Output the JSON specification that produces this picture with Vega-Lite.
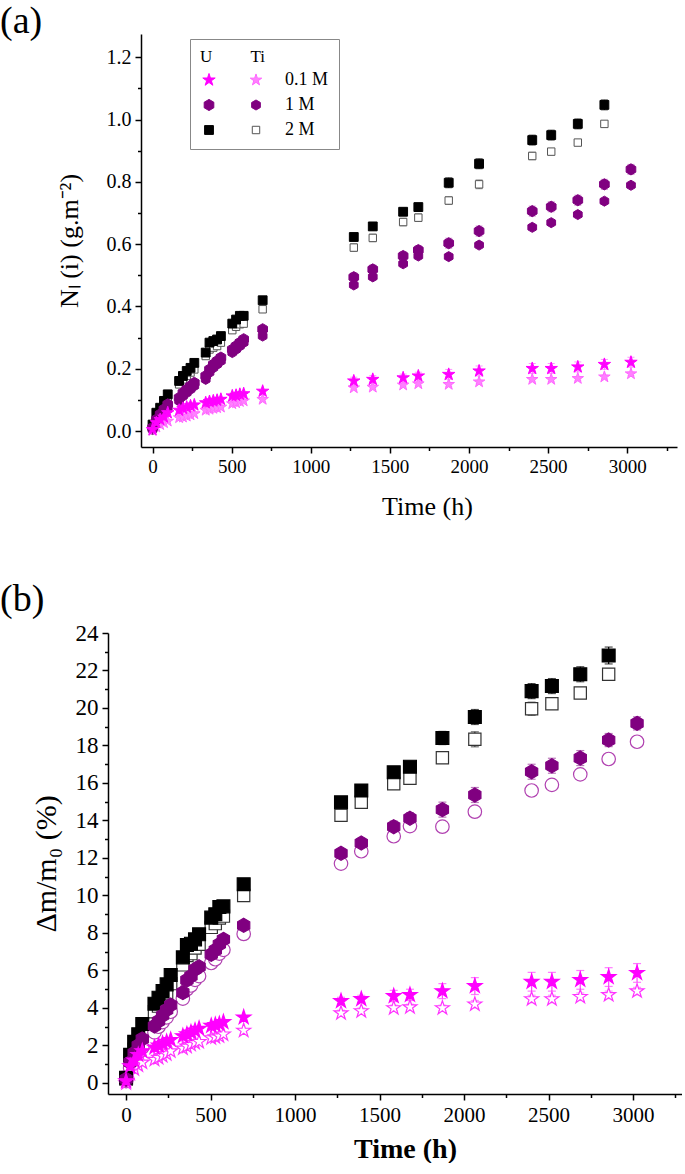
{
"$schema": "https://vega.github.io/schema/vega-lite/v6.json",
"background": "white",
"padding": {"left": 0, "top": 3, "right": 0, "bottom": 0},
"spacing": 62,
"datasets": {
"a": [
{"s":"Ti 2 M","t":0,"v":0.011},{"s":"Ti 2 M","t":24,"v":0.048},{"s":"Ti 2 M","t":48,"v":0.07},{"s":"Ti 2 M","t":72,"v":0.086},{"s":"Ti 2 M","t":96,"v":0.102},{"s":"Ti 2 M","t":168,"v":0.15},{"s":"Ti 2 M","t":192,"v":0.166},{"s":"Ti 2 M","t":216,"v":0.177},{"s":"Ti 2 M","t":240,"v":0.188},{"s":"Ti 2 M","t":264,"v":0.198},{"s":"Ti 2 M","t":336,"v":0.241},{"s":"Ti 2 M","t":360,"v":0.262},{"s":"Ti 2 M","t":384,"v":0.268},{"s":"Ti 2 M","t":408,"v":0.273},{"s":"Ti 2 M","t":432,"v":0.284},{"s":"Ti 2 M","t":504,"v":0.324},{"s":"Ti 2 M","t":528,"v":0.335},{"s":"Ti 2 M","t":552,"v":0.343},{"s":"Ti 2 M","t":576,"v":0.345},{"s":"Ti 2 M","t":696,"v":0.391},
{"s":"Ti 2 M","t":1272,"v":0.589,"e":0.012},{"s":"Ti 2 M","t":1392,"v":0.62,"e":0.012},{"s":"Ti 2 M","t":1584,"v":0.671,"e":0.012},{"s":"Ti 2 M","t":1680,"v":0.685,"e":0.012},{"s":"Ti 2 M","t":1872,"v":0.74,"e":0.012},{"s":"Ti 2 M","t":2064,"v":0.792,"e":0.014},{"s":"Ti 2 M","t":2400,"v":0.883,"e":0.012},{"s":"Ti 2 M","t":2520,"v":0.897,"e":0.01},{"s":"Ti 2 M","t":2688,"v":0.926,"e":0.008},{"s":"Ti 2 M","t":2856,"v":0.986,"e":0.008},
{"s":"Ti 1 M","t":0,"v":0.005},{"s":"Ti 1 M","t":24,"v":0.027},{"s":"Ti 1 M","t":48,"v":0.045},{"s":"Ti 1 M","t":72,"v":0.059},{"s":"Ti 1 M","t":96,"v":0.075},{"s":"Ti 1 M","t":168,"v":0.097},{"s":"Ti 1 M","t":192,"v":0.112},{"s":"Ti 1 M","t":216,"v":0.123},{"s":"Ti 1 M","t":240,"v":0.134},{"s":"Ti 1 M","t":264,"v":0.145},{"s":"Ti 1 M","t":336,"v":0.166},{"s":"Ti 1 M","t":360,"v":0.188},{"s":"Ti 1 M","t":384,"v":0.203},{"s":"Ti 1 M","t":408,"v":0.214},{"s":"Ti 1 M","t":432,"v":0.225},{"s":"Ti 1 M","t":504,"v":0.252},{"s":"Ti 1 M","t":528,"v":0.262},{"s":"Ti 1 M","t":552,"v":0.273},{"s":"Ti 1 M","t":576,"v":0.284},{"s":"Ti 1 M","t":696,"v":0.305},
{"s":"Ti 1 M","t":1272,"v":0.469,"e":0.008},{"s":"Ti 1 M","t":1392,"v":0.495,"e":0.008},{"s":"Ti 1 M","t":1584,"v":0.537,"e":0.008},{"s":"Ti 1 M","t":1680,"v":0.562,"e":0.008},{"s":"Ti 1 M","t":1872,"v":0.56,"e":0.006},{"s":"Ti 1 M","t":2064,"v":0.597,"e":0.006},{"s":"Ti 1 M","t":2400,"v":0.654,"e":0.006},{"s":"Ti 1 M","t":2520,"v":0.669,"e":0.006},{"s":"Ti 1 M","t":2688,"v":0.695,"e":0.006},{"s":"Ti 1 M","t":2856,"v":0.738,"e":0.006},{"s":"Ti 1 M","t":3024,"v":0.789,"e":0.006},
{"s":"Ti 0.1 M","t":0,"v":0.002},{"s":"Ti 0.1 M","t":24,"v":0.013},{"s":"Ti 0.1 M","t":48,"v":0.021},{"s":"Ti 0.1 M","t":72,"v":0.027},{"s":"Ti 0.1 M","t":96,"v":0.032},{"s":"Ti 0.1 M","t":168,"v":0.043},{"s":"Ti 0.1 M","t":192,"v":0.045},{"s":"Ti 0.1 M","t":216,"v":0.048},{"s":"Ti 0.1 M","t":240,"v":0.052},{"s":"Ti 0.1 M","t":264,"v":0.056},{"s":"Ti 0.1 M","t":336,"v":0.067},{"s":"Ti 0.1 M","t":360,"v":0.07},{"s":"Ti 0.1 M","t":384,"v":0.073},{"s":"Ti 0.1 M","t":408,"v":0.075},{"s":"Ti 0.1 M","t":432,"v":0.077},{"s":"Ti 0.1 M","t":504,"v":0.088},{"s":"Ti 0.1 M","t":528,"v":0.091},{"s":"Ti 0.1 M","t":552,"v":0.095},{"s":"Ti 0.1 M","t":576,"v":0.097},{"s":"Ti 0.1 M","t":696,"v":0.102},
{"s":"Ti 0.1 M","t":1272,"v":0.139,"e":0.006},{"s":"Ti 0.1 M","t":1392,"v":0.141,"e":0.006},{"s":"Ti 0.1 M","t":1584,"v":0.148,"e":0.006},{"s":"Ti 0.1 M","t":1680,"v":0.152,"e":0.006},{"s":"Ti 0.1 M","t":1872,"v":0.15,"e":0.006},{"s":"Ti 0.1 M","t":2064,"v":0.158,"e":0.006},{"s":"Ti 0.1 M","t":2400,"v":0.166,"e":0.006},{"s":"Ti 0.1 M","t":2520,"v":0.166,"e":0.006},{"s":"Ti 0.1 M","t":2688,"v":0.169,"e":0.006},{"s":"Ti 0.1 M","t":2856,"v":0.174,"e":0.006},{"s":"Ti 0.1 M","t":3024,"v":0.184,"e":0.006},
{"s":"U 2 M","t":0,"v":0.021},{"s":"U 2 M","t":24,"v":0.059},{"s":"U 2 M","t":48,"v":0.075},{"s":"U 2 M","t":72,"v":0.097},{"s":"U 2 M","t":96,"v":0.118},{"s":"U 2 M","t":168,"v":0.161},{"s":"U 2 M","t":192,"v":0.177},{"s":"U 2 M","t":216,"v":0.193},{"s":"U 2 M","t":240,"v":0.203},{"s":"U 2 M","t":264,"v":0.219},{"s":"U 2 M","t":336,"v":0.252},{"s":"U 2 M","t":360,"v":0.284},{"s":"U 2 M","t":384,"v":0.289},{"s":"U 2 M","t":408,"v":0.294},{"s":"U 2 M","t":432,"v":0.305},{"s":"U 2 M","t":504,"v":0.345},{"s":"U 2 M","t":528,"v":0.358},{"s":"U 2 M","t":552,"v":0.37},{"s":"U 2 M","t":576,"v":0.37},{"s":"U 2 M","t":696,"v":0.42},
{"s":"U 2 M","t":1272,"v":0.623,"e":0.012},{"s":"U 2 M","t":1392,"v":0.657,"e":0.012},{"s":"U 2 M","t":1584,"v":0.704,"e":0.012},{"s":"U 2 M","t":1680,"v":0.719,"e":0.012},{"s":"U 2 M","t":1872,"v":0.797,"e":0.016},{"s":"U 2 M","t":2064,"v":0.858,"e":0.016},{"s":"U 2 M","t":2400,"v":0.934,"e":0.016},{"s":"U 2 M","t":2520,"v":0.95,"e":0.016},{"s":"U 2 M","t":2688,"v":0.986,"e":0.016},{"s":"U 2 M","t":2856,"v":1.047,"e":0.016},
{"s":"U 1 M","t":0,"v":0.011},{"s":"U 1 M","t":24,"v":0.037},{"s":"U 1 M","t":48,"v":0.054},{"s":"U 1 M","t":72,"v":0.07},{"s":"U 1 M","t":96,"v":0.086},{"s":"U 1 M","t":168,"v":0.107},{"s":"U 1 M","t":192,"v":0.123},{"s":"U 1 M","t":216,"v":0.134},{"s":"U 1 M","t":240,"v":0.145},{"s":"U 1 M","t":264,"v":0.155},{"s":"U 1 M","t":336,"v":0.177},{"s":"U 1 M","t":360,"v":0.198},{"s":"U 1 M","t":384,"v":0.214},{"s":"U 1 M","t":408,"v":0.225},{"s":"U 1 M","t":432,"v":0.236},{"s":"U 1 M","t":504,"v":0.262},{"s":"U 1 M","t":528,"v":0.273},{"s":"U 1 M","t":552,"v":0.284},{"s":"U 1 M","t":576,"v":0.295},{"s":"U 1 M","t":696,"v":0.327},
{"s":"U 1 M","t":1272,"v":0.494,"e":0.014},{"s":"U 1 M","t":1392,"v":0.519,"e":0.014},{"s":"U 1 M","t":1584,"v":0.562,"e":0.014},{"s":"U 1 M","t":1680,"v":0.581,"e":0.014},{"s":"U 1 M","t":1872,"v":0.603,"e":0.016},{"s":"U 1 M","t":2064,"v":0.642,"e":0.016},{"s":"U 1 M","t":2400,"v":0.706,"e":0.016},{"s":"U 1 M","t":2520,"v":0.72,"e":0.016},{"s":"U 1 M","t":2688,"v":0.741,"e":0.016},{"s":"U 1 M","t":2856,"v":0.792,"e":0.016},{"s":"U 1 M","t":3024,"v":0.84,"e":0.016},
{"s":"U 0.1 M","t":0,"v":0.005},{"s":"U 0.1 M","t":24,"v":0.027},{"s":"U 0.1 M","t":48,"v":0.037},{"s":"U 0.1 M","t":72,"v":0.045},{"s":"U 0.1 M","t":96,"v":0.059},{"s":"U 0.1 M","t":168,"v":0.067},{"s":"U 0.1 M","t":192,"v":0.073},{"s":"U 0.1 M","t":216,"v":0.077},{"s":"U 0.1 M","t":240,"v":0.081},{"s":"U 0.1 M","t":264,"v":0.084},{"s":"U 0.1 M","t":336,"v":0.091},{"s":"U 0.1 M","t":360,"v":0.095},{"s":"U 0.1 M","t":384,"v":0.097},{"s":"U 0.1 M","t":408,"v":0.099},{"s":"U 0.1 M","t":432,"v":0.102},{"s":"U 0.1 M","t":504,"v":0.113},{"s":"U 0.1 M","t":528,"v":0.115},{"s":"U 0.1 M","t":552,"v":0.118},{"s":"U 0.1 M","t":576,"v":0.12},{"s":"U 0.1 M","t":696,"v":0.128},
{"s":"U 0.1 M","t":1272,"v":0.161,"e":0.012},{"s":"U 0.1 M","t":1392,"v":0.166,"e":0.012},{"s":"U 0.1 M","t":1584,"v":0.171,"e":0.012},{"s":"U 0.1 M","t":1680,"v":0.177,"e":0.012},{"s":"U 0.1 M","t":1872,"v":0.182,"e":0.016},{"s":"U 0.1 M","t":2064,"v":0.193,"e":0.016},{"s":"U 0.1 M","t":2400,"v":0.201,"e":0.016},{"s":"U 0.1 M","t":2520,"v":0.201,"e":0.016},{"s":"U 0.1 M","t":2688,"v":0.206,"e":0.016},{"s":"U 0.1 M","t":2856,"v":0.214,"e":0.016},{"s":"U 0.1 M","t":3024,"v":0.221,"e":0.016}
],
"b": [
{"s":"Ti 2 M","t":0,"v":0.2},{"s":"Ti 2 M","t":24,"v":1.2},{"s":"Ti 2 M","t":48,"v":1.8},{"s":"Ti 2 M","t":72,"v":2.2},{"s":"Ti 2 M","t":96,"v":2.6},{"s":"Ti 2 M","t":168,"v":3.8},{"s":"Ti 2 M","t":192,"v":4.1},{"s":"Ti 2 M","t":216,"v":4.5},{"s":"Ti 2 M","t":240,"v":4.8},{"s":"Ti 2 M","t":264,"v":5.3},{"s":"Ti 2 M","t":336,"v":6.3},{"s":"Ti 2 M","t":360,"v":6.8},{"s":"Ti 2 M","t":384,"v":6.9},{"s":"Ti 2 M","t":408,"v":7.2},{"s":"Ti 2 M","t":432,"v":7.4},{"s":"Ti 2 M","t":504,"v":8.3},{"s":"Ti 2 M","t":528,"v":8.5},{"s":"Ti 2 M","t":552,"v":8.8},{"s":"Ti 2 M","t":576,"v":8.9},{"s":"Ti 2 M","t":696,"v":10.0},
{"s":"Ti 2 M","t":1272,"v":14.28,"e":0.1},{"s":"Ti 2 M","t":1392,"v":14.97,"e":0.2},{"s":"Ti 2 M","t":1584,"v":15.96,"e":0.2},{"s":"Ti 2 M","t":1680,"v":16.25,"e":0.2},{"s":"Ti 2 M","t":1872,"v":17.35,"e":0.25},{"s":"Ti 2 M","t":2064,"v":18.33,"e":0.4},{"s":"Ti 2 M","t":2400,"v":19.96,"e":0.35},{"s":"Ti 2 M","t":2520,"v":20.23,"e":0.25},{"s":"Ti 2 M","t":2688,"v":20.8,"e":0.2},{"s":"Ti 2 M","t":2856,"v":21.8,"e":0.3},
{"s":"Ti 1 M","t":0,"v":0.1},{"s":"Ti 1 M","t":24,"v":0.8},{"s":"Ti 1 M","t":48,"v":1.2},{"s":"Ti 1 M","t":72,"v":1.6},{"s":"Ti 1 M","t":96,"v":1.9},{"s":"Ti 1 M","t":168,"v":2.7},{"s":"Ti 1 M","t":192,"v":3.0},{"s":"Ti 1 M","t":216,"v":3.25},{"s":"Ti 1 M","t":240,"v":3.5},{"s":"Ti 1 M","t":264,"v":3.8},{"s":"Ti 1 M","t":336,"v":4.5},{"s":"Ti 1 M","t":360,"v":5.0},{"s":"Ti 1 M","t":384,"v":5.2},{"s":"Ti 1 M","t":408,"v":5.5},{"s":"Ti 1 M","t":432,"v":5.7},{"s":"Ti 1 M","t":504,"v":6.4},{"s":"Ti 1 M","t":528,"v":6.6},{"s":"Ti 1 M","t":552,"v":6.9},{"s":"Ti 1 M","t":576,"v":7.1},{"s":"Ti 1 M","t":696,"v":7.95},
{"s":"Ti 1 M","t":1272,"v":11.7,"e":0.2},{"s":"Ti 1 M","t":1392,"v":12.36,"e":0.2},{"s":"Ti 1 M","t":1584,"v":13.16,"e":0.2},{"s":"Ti 1 M","t":1680,"v":13.7,"e":0.2},{"s":"Ti 1 M","t":1872,"v":13.67,"e":0.15},{"s":"Ti 1 M","t":2064,"v":14.47,"e":0.1},{"s":"Ti 1 M","t":2400,"v":15.6,"e":0.25},{"s":"Ti 1 M","t":2520,"v":15.9,"e":0.25},{"s":"Ti 1 M","t":2688,"v":16.46,"e":0.15},{"s":"Ti 1 M","t":2856,"v":17.28,"e":0.25},{"s":"Ti 1 M","t":3024,"v":18.2,"e":0.25},
{"s":"Ti 0.1 M","t":0,"v":0.0},{"s":"Ti 0.1 M","t":24,"v":0.5},{"s":"Ti 0.1 M","t":48,"v":0.75},{"s":"Ti 0.1 M","t":72,"v":0.95},{"s":"Ti 0.1 M","t":96,"v":1.1},{"s":"Ti 0.1 M","t":168,"v":1.25},{"s":"Ti 0.1 M","t":192,"v":1.35},{"s":"Ti 0.1 M","t":216,"v":1.45},{"s":"Ti 0.1 M","t":240,"v":1.55},{"s":"Ti 0.1 M","t":264,"v":1.7},{"s":"Ti 0.1 M","t":336,"v":1.85},{"s":"Ti 0.1 M","t":360,"v":1.95},{"s":"Ti 0.1 M","t":384,"v":2.05},{"s":"Ti 0.1 M","t":408,"v":2.15},{"s":"Ti 0.1 M","t":432,"v":2.2},{"s":"Ti 0.1 M","t":504,"v":2.4},{"s":"Ti 0.1 M","t":528,"v":2.45},{"s":"Ti 0.1 M","t":552,"v":2.5},{"s":"Ti 0.1 M","t":576,"v":2.6},{"s":"Ti 0.1 M","t":696,"v":2.8},
{"s":"Ti 0.1 M","t":1272,"v":3.73,"e":0.15},{"s":"Ti 0.1 M","t":1392,"v":3.84,"e":0.15},{"s":"Ti 0.1 M","t":1584,"v":4.0,"e":0.15},{"s":"Ti 0.1 M","t":1680,"v":4.05,"e":0.15},{"s":"Ti 0.1 M","t":1872,"v":4.0,"e":0.15},{"s":"Ti 0.1 M","t":2064,"v":4.2,"e":0.2},{"s":"Ti 0.1 M","t":2400,"v":4.48,"e":0.2},{"s":"Ti 0.1 M","t":2520,"v":4.48,"e":0.2},{"s":"Ti 0.1 M","t":2688,"v":4.6,"e":0.2},{"s":"Ti 0.1 M","t":2856,"v":4.7,"e":0.2},{"s":"Ti 0.1 M","t":3024,"v":4.9,"e":0.2},
{"s":"U 2 M","t":0,"v":0.28},{"s":"U 2 M","t":24,"v":1.5},{"s":"U 2 M","t":48,"v":2.2},{"s":"U 2 M","t":72,"v":2.6},{"s":"U 2 M","t":96,"v":3.15},{"s":"U 2 M","t":168,"v":4.23},{"s":"U 2 M","t":192,"v":4.55},{"s":"U 2 M","t":216,"v":4.9},{"s":"U 2 M","t":240,"v":5.26},{"s":"U 2 M","t":264,"v":5.76},{"s":"U 2 M","t":336,"v":6.7},{"s":"U 2 M","t":360,"v":7.36},{"s":"U 2 M","t":384,"v":7.43},{"s":"U 2 M","t":408,"v":7.66},{"s":"U 2 M","t":432,"v":7.93},{"s":"U 2 M","t":504,"v":8.82},{"s":"U 2 M","t":528,"v":9.0},{"s":"U 2 M","t":552,"v":9.39},{"s":"U 2 M","t":576,"v":9.42},{"s":"U 2 M","t":696,"v":10.6},
{"s":"U 2 M","t":1272,"v":14.97,"e":0.1},{"s":"U 2 M","t":1392,"v":15.6,"e":0.1},{"s":"U 2 M","t":1584,"v":16.57,"e":0.15},{"s":"U 2 M","t":1680,"v":16.87,"e":0.15},{"s":"U 2 M","t":1872,"v":18.4,"e":0.35},{"s":"U 2 M","t":2064,"v":19.52,"e":0.4},{"s":"U 2 M","t":2400,"v":20.9,"e":0.4},{"s":"U 2 M","t":2520,"v":21.17,"e":0.4},{"s":"U 2 M","t":2688,"v":21.8,"e":0.4},{"s":"U 2 M","t":2856,"v":22.8,"e":0.45},
{"s":"U 1 M","t":0,"v":0.2},{"s":"U 1 M","t":24,"v":1.1},{"s":"U 1 M","t":48,"v":1.6},{"s":"U 1 M","t":72,"v":2.0},{"s":"U 1 M","t":96,"v":2.35},{"s":"U 1 M","t":168,"v":3.04},{"s":"U 1 M","t":192,"v":3.3},{"s":"U 1 M","t":216,"v":3.6},{"s":"U 1 M","t":240,"v":3.9},{"s":"U 1 M","t":264,"v":4.16},{"s":"U 1 M","t":336,"v":4.82},{"s":"U 1 M","t":360,"v":5.49},{"s":"U 1 M","t":384,"v":5.7},{"s":"U 1 M","t":408,"v":6.06},{"s":"U 1 M","t":432,"v":6.2},{"s":"U 1 M","t":504,"v":6.86},{"s":"U 1 M","t":528,"v":7.09},{"s":"U 1 M","t":552,"v":7.4},{"s":"U 1 M","t":576,"v":7.66},{"s":"U 1 M","t":696,"v":8.41},
{"s":"U 1 M","t":1272,"v":12.25,"e":0.25},{"s":"U 1 M","t":1392,"v":12.8,"e":0.25},{"s":"U 1 M","t":1584,"v":13.67,"e":0.3},{"s":"U 1 M","t":1680,"v":14.12,"e":0.3},{"s":"U 1 M","t":1872,"v":14.58,"e":0.4},{"s":"U 1 M","t":2064,"v":15.36,"e":0.4},{"s":"U 1 M","t":2400,"v":16.6,"e":0.4},{"s":"U 1 M","t":2520,"v":16.92,"e":0.4},{"s":"U 1 M","t":2688,"v":17.33,"e":0.4},{"s":"U 1 M","t":2856,"v":18.29,"e":0.35},{"s":"U 1 M","t":3024,"v":19.18,"e":0.35},
{"s":"U 0.1 M","t":0,"v":0.1},{"s":"U 0.1 M","t":24,"v":0.9},{"s":"U 0.1 M","t":48,"v":1.2},{"s":"U 0.1 M","t":72,"v":1.5},{"s":"U 0.1 M","t":96,"v":1.7},{"s":"U 0.1 M","t":168,"v":1.9},{"s":"U 0.1 M","t":192,"v":2.0},{"s":"U 0.1 M","t":216,"v":2.1},{"s":"U 0.1 M","t":240,"v":2.2},{"s":"U 0.1 M","t":264,"v":2.3},{"s":"U 0.1 M","t":336,"v":2.5},{"s":"U 0.1 M","t":360,"v":2.6},{"s":"U 0.1 M","t":384,"v":2.7},{"s":"U 0.1 M","t":408,"v":2.8},{"s":"U 0.1 M","t":432,"v":2.9},{"s":"U 0.1 M","t":504,"v":3.05},{"s":"U 0.1 M","t":528,"v":3.1},{"s":"U 0.1 M","t":552,"v":3.15},{"s":"U 0.1 M","t":576,"v":3.25},{"s":"U 0.1 M","t":696,"v":3.5},
{"s":"U 0.1 M","t":1272,"v":4.37,"e":0.2},{"s":"U 0.1 M","t":1392,"v":4.48,"e":0.2},{"s":"U 0.1 M","t":1584,"v":4.64,"e":0.3},{"s":"U 0.1 M","t":1680,"v":4.7,"e":0.3},{"s":"U 0.1 M","t":1872,"v":4.9,"e":0.4},{"s":"U 0.1 M","t":2064,"v":5.17,"e":0.45},{"s":"U 0.1 M","t":2400,"v":5.4,"e":0.5},{"s":"U 0.1 M","t":2520,"v":5.4,"e":0.5},{"s":"U 0.1 M","t":2688,"v":5.5,"e":0.5},{"s":"U 0.1 M","t":2856,"v":5.65,"e":0.5},{"s":"U 0.1 M","t":3024,"v":5.87,"e":0.5}
]
},
"vconcat": [
{
"width": 569, "height": 413,
"title": {"text": "(a)", "anchor": "start", "frame": "group", "fontSize": 38, "font": "Liberation Serif", "fontWeight": "normal", "dx": -108, "offset": -37, "baseline": "alphabetic"},
"data": {"name": "a"},
"encoding": {
"x": {"field": "t", "type": "quantitative", "scale": {"domain": [-73, 3315], "range": [33, 569], "nice": false, "zero": false},
"axis": {"title": "Time (h)", "titleX": 319, "values": [0,250,500,750,1000,1250,1500,1750,2000,2250,2500,2750,3000,3250], "format": "d", "labelExpr": "datum.value % 500 == 0 ? datum.label : ''", "tickSize": {"condition": {"test": "datum.value % 500 == 0", "value": 6}, "value": 3.5}, "labelFontSize": 19, "titleFontSize": 26, "labelPadding": 4, "titlePadding": 17}},
"y": {"field": "v", "type": "quantitative", "scale": {"domain": [-0.051, 1.2745], "nice": false, "zero": false},
"axis": {"title": "Nₗ (i) (g.m⁻²)", "offset": -33, "values": [0,0.1,0.2,0.3,0.4,0.5,0.6,0.7,0.8,0.9,1.0,1.1,1.2], "format": ".1f", "labelExpr": "round(datum.value*10) % 2 == 0 ? datum.label : ''", "tickSize": {"condition": {"test": "round(datum.value*10) % 2 == 0", "value": 6}, "value": 3.5}, "labelFontSize": 20, "titleFontSize": 26, "labelPadding": 4, "titlePadding": 24}}
},
"layer": [
{
"transform": [{"filter": "isValid(datum.e)"}],
"mark": {"type": "errorbar", "ticks": {"size": 7}, "thickness": 1},
"encoding": {
"yError": {"field": "e"},
"color": {"field": "s", "type": "nominal", "legend": null, "scale": {"domain": ["Ti 2 M","U 2 M","Ti 1 M","U 1 M","Ti 0.1 M","U 0.1 M"], "range": ["#555555","#000000","#A040A0","#C060C0","#FF99FF","#FF66FF"]}}
}
},
{
"mark": {"type": "point", "opacity": 1, "strokeWidth": 1},
"encoding": {
"fill": {"field": "s", "type": "nominal", "scale": {"domain": ["U 0.1 M","Ti 0.1 M","U 1 M","Ti 1 M","U 2 M","Ti 2 M"], "range": ["#FF00FF","#FF80FF","#800080","#800080","#000000","#FFFFFF"]},
"legend": {"title": "U\u00a0\u00a0\u00a0\u00a0\u00a0\u00a0\u00a0\u00a0\u00a0Ti", "orient": "none", "legendX": 82, "legendY": 5, "direction": "horizontal", "columns": 2, "columnPadding": 9, "rowPadding": 7, "labelOffset": 20, "labelExpr": "indexof(datum.label, 'Ti') == 0 ? substring(datum.label, 3) : ''", "strokeColor": "#888888", "padding": 10, "titleFont": "Liberation Serif", "titleFontSize": 17, "titleFontWeight": "normal", "titleColor": "#000", "titlePadding": 5, "labelFont": "Liberation Serif", "labelFontSize": 18, "labelColor": "#000", "symbolStrokeWidth": 1, "symbolOpacity": 1}},
"shape": {"field": "s", "type": "nominal", "legend": {"title": "U\u00a0\u00a0\u00a0\u00a0\u00a0\u00a0\u00a0\u00a0\u00a0Ti"}, "scale": {"domain": ["U 0.1 M","Ti 0.1 M","U 1 M","Ti 1 M","U 2 M","Ti 2 M"], "range": ["M0,-1L0.2245,-0.309L0.951,-0.309L0.363,0.118L0.588,0.809L0,0.382L-0.588,0.809L-0.363,0.118L-0.951,-0.309L-0.2245,-0.309Z","M0,-1L0.2245,-0.309L0.951,-0.309L0.363,0.118L0.588,0.809L0,0.382L-0.588,0.809L-0.363,0.118L-0.951,-0.309L-0.2245,-0.309Z","M0,-1L0.866,-0.5L0.866,0.5L0,1L-0.866,0.5L-0.866,-0.5Z","M0,-1L0.866,-0.5L0.866,0.5L0,1L-0.866,0.5L-0.866,-0.5Z","square","square"]}},
"size": {"field": "s", "type": "nominal", "legend": {"title": "U\u00a0\u00a0\u00a0\u00a0\u00a0\u00a0\u00a0\u00a0\u00a0Ti"}, "scale": {"domain": ["U 0.1 M","Ti 0.1 M","U 1 M","Ti 1 M","U 2 M","Ti 2 M"], "range": [170, 55, 130, 45, 100, 30]}},
"stroke": {"field": "s", "type": "nominal", "legend": {"title": "U\u00a0\u00a0\u00a0\u00a0\u00a0\u00a0\u00a0\u00a0\u00a0Ti"}, "scale": {"domain": ["U 0.1 M","Ti 0.1 M","U 1 M","Ti 1 M","U 2 M","Ti 2 M"], "range": ["#FF00FF","#FF66FF","#800080","#800080","#000000","#555555"]}}
}
}
]
},
{
"width": 574, "height": 461,
"title": {"text": "(b)", "anchor": "start", "frame": "group", "fontSize": 38, "font": "Liberation Serif", "fontWeight": "normal", "dx": -108, "offset": -27, "baseline": "alphabetic"},
"data": {"name": "b"},
"encoding": {
"x": {"field": "t", "type": "quantitative", "scale": {"domain": [-107, 3290], "nice": false, "zero": false},
"axis": {"title": "Time (h)", "titleX": 297, "values": [0,250,500,750,1000,1250,1500,1750,2000,2250,2500,2750,3000,3250], "format": "d", "labelExpr": "datum.value % 500 == 0 ? datum.label : ''", "tickSize": {"condition": {"test": "datum.value % 500 == 0", "value": 6}, "value": 3.5}, "labelFontSize": 21, "titleFontSize": 28, "titleFontWeight": "bold", "labelPadding": 4, "titlePadding": 10}},
"y": {"field": "v", "type": "quantitative", "scale": {"domain": [-0.587, 24], "nice": false, "zero": false},
"axis": {"title": "Δm/m₀ (%)", "values": [0,1,2,3,4,5,6,7,8,9,10,11,12,13,14,15,16,17,18,19,20,21,22,23,24], "format": "d", "labelExpr": "datum.value % 2 == 0 ? datum.label : ''", "tickSize": {"condition": {"test": "datum.value % 2 == 0", "value": 6}, "value": 3.5}, "labelFontSize": 23, "titleFontSize": 30, "labelPadding": 4, "titlePadding": 14}}
},
"layer": [
{
"transform": [{"filter": "isValid(datum.e)"}],
"mark": {"type": "errorbar", "ticks": {"size": 8}, "thickness": 1.2},
"encoding": {
"yError": {"field": "e"},
"color": {"field": "s", "type": "nominal", "legend": null, "scale": {"domain": ["U 0.1 M","Ti 0.1 M","U 1 M","Ti 1 M","U 2 M","Ti 2 M"], "range": ["#FF44FF","#FF66FF","#A040A0","#C060C0","#000000","#333333"]}}
}
},
{
"mark": {"type": "point", "opacity": 1, "strokeWidth": 1.2},
"encoding": {
"shape": {"field": "s", "type": "nominal", "legend": null, "scale": {"domain": ["U 0.1 M","Ti 0.1 M","U 1 M","Ti 1 M","U 2 M","Ti 2 M"], "range": ["M0,-1L0.2245,-0.309L0.951,-0.309L0.363,0.118L0.588,0.809L0,0.382L-0.588,0.809L-0.363,0.118L-0.951,-0.309L-0.2245,-0.309Z","M0,-1L0.2245,-0.309L0.951,-0.309L0.363,0.118L0.588,0.809L0,0.382L-0.588,0.809L-0.363,0.118L-0.951,-0.309L-0.2245,-0.309Z","M0,-1L0.866,-0.5L0.866,0.5L0,1L-0.866,0.5L-0.866,-0.5Z","circle","square","square"]}},
"size": {"field": "s", "type": "nominal", "legend": null, "scale": {"domain": ["U 0.1 M","Ti 0.1 M","U 1 M","Ti 1 M","U 2 M","Ti 2 M"], "range": [230, 150, 190, 80, 150, 70]}},
"fill": {"field": "s", "type": "nominal", "legend": null, "scale": {"domain": ["U 0.1 M","Ti 0.1 M","U 1 M","Ti 1 M","U 2 M","Ti 2 M"], "range": ["#FF00FF","#FFFFFF","#800080","#FFFFFF","#000000","#FFFFFF"]}},
"stroke": {"field": "s", "type": "nominal", "legend": null, "scale": {"domain": ["U 0.1 M","Ti 0.1 M","U 1 M","Ti 1 M","U 2 M","Ti 2 M"], "range": ["#FF00FF","#FF33FF","#800080","#B040B0","#000000","#333333"]}}
}
}
]
}
],
"resolve": {"scale": {"shape": "independent", "size": "independent", "fill": "independent", "stroke": "independent", "color": "independent"}},
"config": {
"view": {"stroke": null},
"font": "Liberation Serif",
"axis": {"grid": false, "domainColor": "#000000", "domainWidth": 1.5, "tickColor": "#000000", "tickWidth": 1.5, "labelColor": "#000000", "titleColor": "#000000", "titleFontWeight": "normal", "labelFont": "Liberation Serif", "titleFont": "Liberation Serif"}
}
}
